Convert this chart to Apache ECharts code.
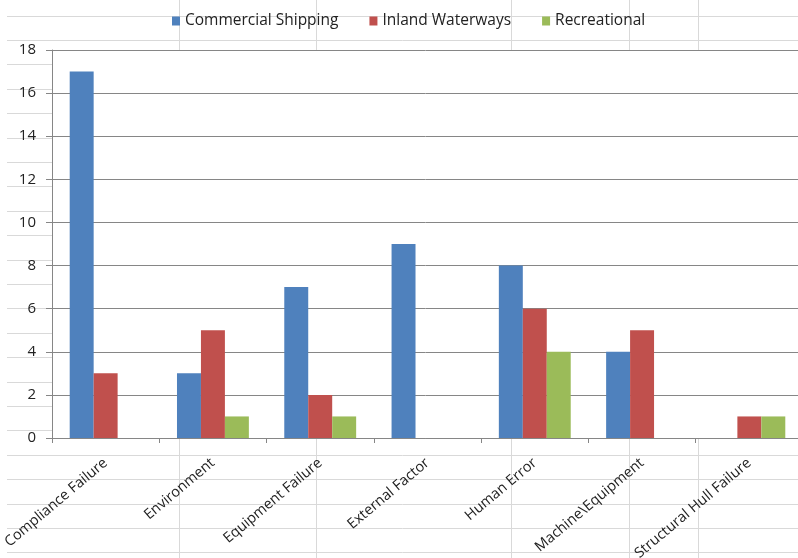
<!DOCTYPE html>
<html>
<head>
<meta charset="utf-8">
<script src="https://cdn.jsdelivr.net/npm/echarts@6/dist/echarts.min.js"></script>
<style>html,body{margin:0;padding:0;background:#fff}#c{width:798px;height:558px}</style>
</head>
<body>
<div id="c"></div>
<script>
var categories = ['Compliance Failure','Environment','Equipment Failure','External Factor','Human Error','Machine\\Equipment','Structural Hull Failure'];
var commercial = [17, 3, 7, 9, 8, 4, 0];
var inland = [3, 5, 2, 0, 6, 5, 1];
var recreational = [0, 1, 1, 0, 4, 0, 1];
var seriesNames = ['Commercial Shipping','Inland Waterways','Recreational'];
var yTicks = [0,2,4,6,8,10,12,14,16,18];

var chart = echarts.init(document.getElementById('c'));
// spreadsheet cell lines in background (decoration)
var bg = [];
var cellLine = {stroke:'#d9d9d9', lineWidth:1};
for (var k = 0; k <= 22; k++) {
  var y = Math.round(15.5 + 24.4*k) + 0.5;
  bg.push({type:'line', z:-10, silent:true, shape:{x1:7,y1:y,x2:798,y2:y}, style:cellLine});
}
[179,316,511,629,698].forEach(function(x){
  bg.push({type:'line', z:-10, silent:true, shape:{x1:x+0.5,y1:0,x2:x+0.5,y2:558}, style:cellLine});
});

var font = 'Open Sans';
chart.setOption({
  backgroundColor:'#fff',
  animation:false,
  color:['#4F81BD','#C0504D','#9BBB59'],
  graphic: bg,
  legend:{
    data: seriesNames, left:167, top:8, itemWidth:8, itemHeight:9, itemGap:31,
    icon:'rect',
    textStyle:{fontFamily:font, fontSize:15.5, color:'#222'}
  },
  grid:{left:52, top:50, width:751, height:388, show:true, backgroundColor:'#fff', borderWidth:0,
        containLabel:false, outerBoundsMode:'none'},
  xAxis:{
    type:'category', data:categories,
    axisLine:{lineStyle:{color:'#868686', width:1}},
    axisTick:{show:true, length:5, lineStyle:{color:'#868686'}},
    axisLabel:{interval:0, rotate:40, margin:23, fontFamily:font, fontSize:14.5, color:'#222'}
  },
  yAxis:{
    type:'value', min:yTicks[0], max:yTicks[yTicks.length-1], interval:2,
    axisLine:{show:true, lineStyle:{color:'#868686', width:1}},
    axisTick:{show:true, length:6, lineStyle:{color:'#868686'}},
    splitLine:{lineStyle:{color:'#868686', width:1}},
    axisLabel:{margin:16, fontFamily:font, fontSize:15, color:'#222'}
  },
  series:[
    {name:seriesNames[0], type:'bar', data:commercial, barGap:'0%', barCategoryGap:'33%'},
    {name:seriesNames[1], type:'bar', data:inland, barGap:'0%', barCategoryGap:'33%'},
    {name:seriesNames[2], type:'bar', data:recreational, barGap:'0%', barCategoryGap:'33%'}
  ]
});
</script>
</body>
</html>
